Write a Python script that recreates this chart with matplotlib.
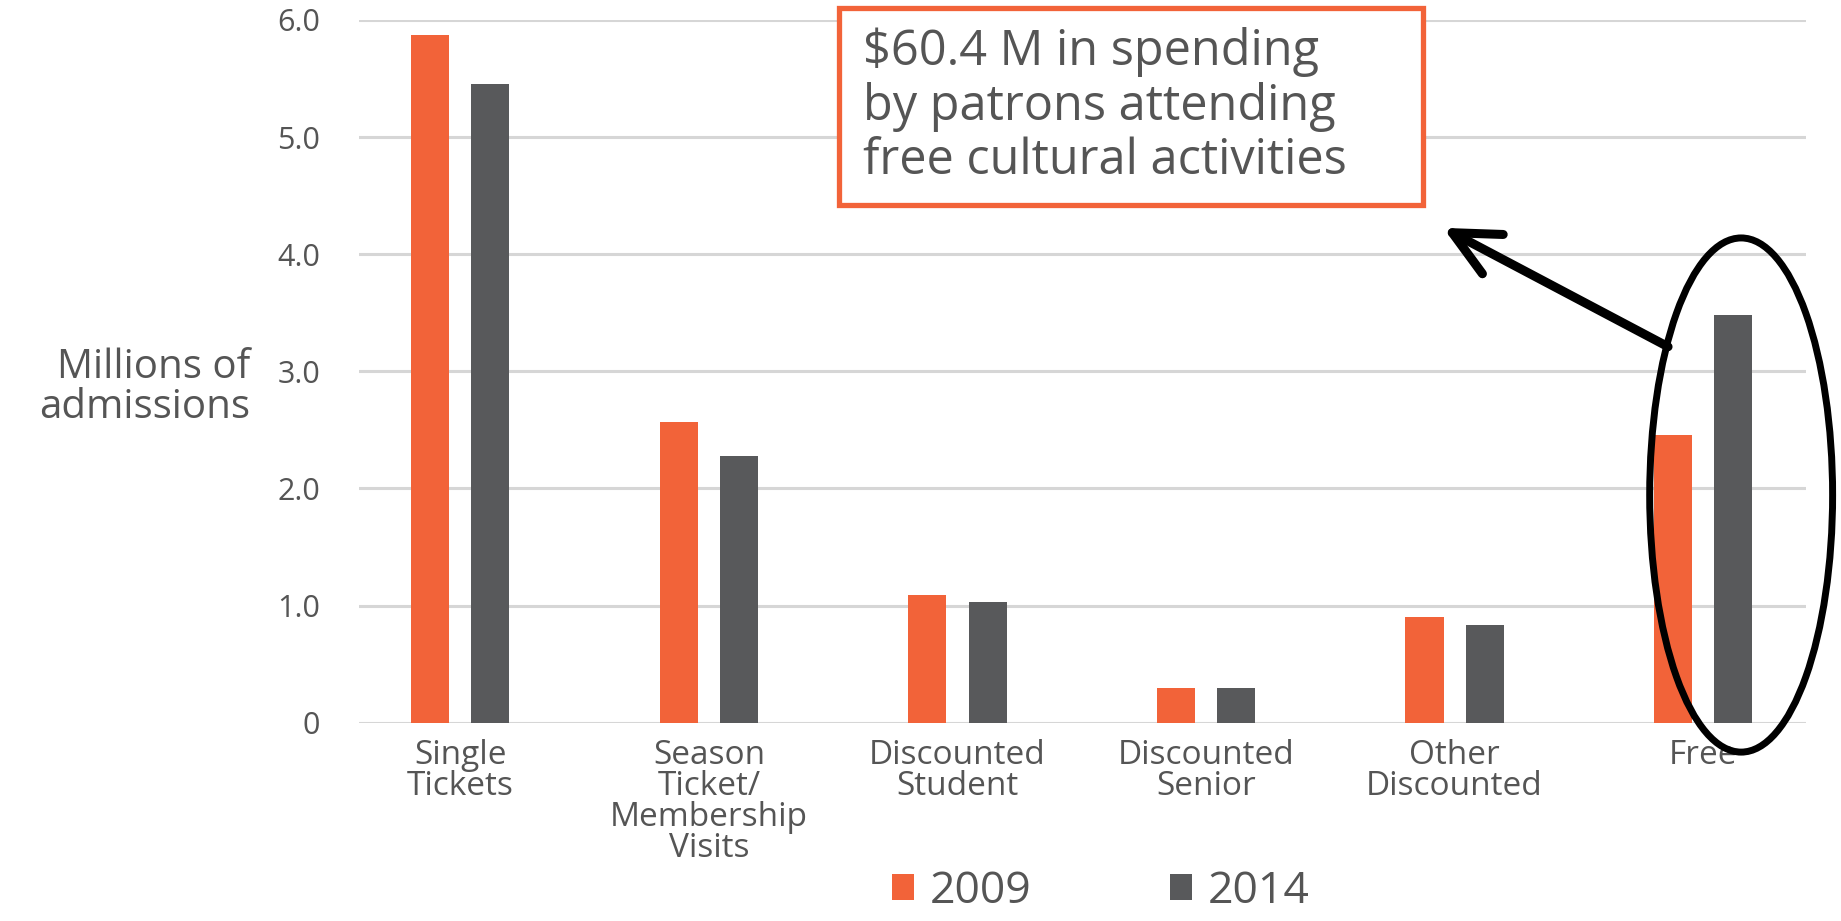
import numpy as np
import matplotlib
matplotlib.use('Agg')
import matplotlib.pyplot as plt
from matplotlib.patches import Ellipse, Rectangle

# data
categories = ['Single\nTickets', 'Season\nTicket/\nMembership\nVisits', 'Discounted\nStudent',
              'Discounted\nSenior', 'Other\nDiscounted', 'Free']
admissions_2009 = [5.87, 2.57, 1.09, 0.30, 0.90, 2.46]
admissions_2014 = [5.45, 2.28, 1.03, 0.30, 0.83, 3.48]
series_labels = ['2009', '2014']
y_ticks = [0, 1, 2, 3, 4, 5, 6]
y_tick_labels = ['0', '1.0', '2.0', '3.0', '4.0', '5.0', '6.0']
y_label = 'Millions of\nadmissions'
callout = '$60.4 M in spending\nby patrons attending\nfree cultural activities'

orange = '#f26339'
gray = '#58595b'
text_gray = '#555555'

plt.rcParams['font.family'] = ['Open Sans', 'DejaVu Sans']

fig = plt.figure(figsize=(18.41, 9.21), dpi=100)
ax = fig.add_axes([0.195, 0.2153, 0.786, 0.763])

x = np.arange(len(categories))
w = 0.153
off = 0.121
ax.bar(x - off, admissions_2009, w, color=orange, label=series_labels[0], zorder=2)
ax.bar(x + off, admissions_2014, w, color=gray, label=series_labels[1], zorder=2)

ax.set_xlim(-0.408, 5.414)
ax.set_ylim(0, 6)
ax.set_yticks(y_ticks)
ax.set_yticklabels(y_tick_labels)
ax.set_xticks(x)
ax.set_xticklabels(categories, linespacing=0.92, va='top')
ax.tick_params(axis='both', length=0, colors=text_gray)
ax.tick_params(axis='y', labelsize=22, pad=28)
ax.tick_params(axis='x', labelsize=24, pad=12)
ax.yaxis.grid(True, color='#d6d6d6', linewidth=2.2)
ax.set_axisbelow(True)
for s in ax.spines.values():
    s.set_visible(False)

fig.text(250 / 1841, 1 - 388 / 921, y_label, ha='right', va='center',
         fontsize=29, color=text_gray, linespacing=1.0)

# callout box with text
box = Rectangle((0.332, 0.737), 0.403, 0.28, transform=ax.transAxes, facecolor='white',
                edgecolor=orange, linewidth=3.8, clip_on=False, zorder=5)
ax.add_patch(box)
ax.text(0.348, 0.877, callout, transform=ax.transAxes, ha='left', va='center',
        fontsize=35, color=text_gray, linespacing=1.12, zorder=6)

# circle round the free bars and arrow to the callout
ax.add_patch(Ellipse((5.153, 1.944), 0.736, 4.39, fill=False, edgecolor='black',
                     linewidth=5, clip_on=False, zorder=4))
ax.annotate('', xy=(3.954, 4.225), xytext=(4.859, 3.21),
            arrowprops=dict(arrowstyle='->,head_length=3.3,head_width=1.6',
                            color='black', lw=6.5, shrinkA=0, shrinkB=0,
                            capstyle='round', joinstyle='round'),
            zorder=4, annotation_clip=False)

ax.legend(loc='center', bbox_to_anchor=(0.598, 0.032), bbox_transform=fig.transFigure,
          ncol=2, frameon=False, fontsize=32, handlelength=0.5, handleheight=0.5,
          handletextpad=0.36, columnspacing=3.1, borderpad=0, labelcolor=text_gray)

fig.savefig('out.png', dpi=100)
